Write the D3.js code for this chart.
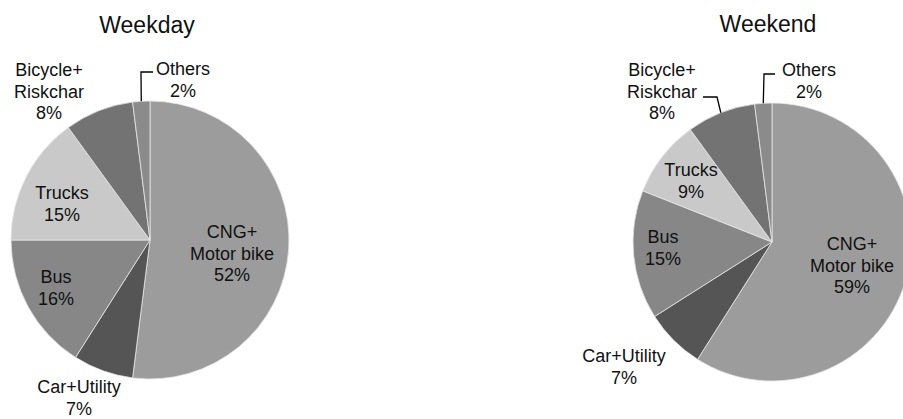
<!DOCTYPE html>
<html>
<head>
<meta charset="utf-8">
<script src="https://cdn.jsdelivr.net/npm/d3@7"></script>
<style>
  html, body { margin: 0; padding: 0; background: #fff; }
  svg { display: block; }
  text { font-family: "Liberation Sans", Arial, sans-serif; fill: #111; }
</style>
</head>
<body>
<svg id="chart" width="903" height="419"></svg>
<script>
// Vehicle categories, in clockwise order from 12 o'clock
const categories = ["CNG+\nMotor bike", "Car+Utility", "Bus", "Trucks", "Bicycle+\nRiskchar", "Others"];
// Share of each category (%)
const weekdayValues = [52, 7, 16, 15, 8, 2];
const weekendValues = [59, 7, 15, 9, 8, 2];
const chartTitles = ["Weekday", "Weekend"];

// Grey fill per category
const fills = ["#9c9c9c", "#555555", "#878787", "#c9c9c9", "#737373", "#8b8b8b"];

// Layout of each pie and its labels (offsets from the pie centre;
// label point = centre-x / baseline of the first line)
const layouts = [
  {
    cx: 150, cy: 240, r: 139, titleX: 147, titleY: 33,
    labels: [[82, -2], [-71, 153], [-94, 43], [-88, -41], [-101, -164], [33, -165]],
    leaders: { 5: [[-9, -168], [3, -168]] }
  },
  {
    cx: 772, cy: 242, r: 139, titleX: 768, titleY: 32,
    labels: [[80, 8], [-148, 120], [-109, 1], [-81, -66], [-110, -166], [37, -166]],
    leaders: { 4: [[-55, -145], [-69, -145]], 5: [[-8, -168], [3, -168]] }
  }
];

const svg = d3.select("#chart");
const lineH = 21.5;

function drawPie(values, title, lay) {
  const g = svg.append("g").attr("transform", `translate(${lay.cx},${lay.cy})`);

  const pie = d3.pie().sort(null).value(d => d.value);
  const arcs = pie(values.map((v, i) => ({ name: categories[i], value: v, i })));
  const arc = d3.arc().innerRadius(0).outerRadius(lay.r);

  g.selectAll("path.slice")
    .data(arcs)
    .join("path")
    .attr("class", "slice")
    .attr("d", arc)
    .attr("fill", d => fills[d.data.i])
    .attr("stroke", "#e6e6e6")
    .attr("stroke-width", 0.8)
    .attr("stroke-linejoin", "round");

  // Leader lines from the slice edge to its label
  const edge = d3.arc().innerRadius(lay.r).outerRadius(lay.r);
  arcs.forEach(d => {
    const pts = lay.leaders[d.data.i];
    if (!pts) return;
    const mid = (d.startAngle + d.endAngle) / 2;
    const start = [lay.r * Math.sin(mid), -lay.r * Math.cos(mid)];
    const path = [start].concat(pts);
    g.append("path")
      .attr("d", d3.line()(path))
      .attr("fill", "none")
      .attr("stroke", "#000")
      .attr("stroke-width", 1.3);
  });

  // Category name and percentage
  const labels = g.selectAll("text.lbl")
    .data(arcs)
    .join("text")
    .attr("class", "lbl")
    .attr("text-anchor", "middle")
    .attr("font-size", "18px");

  labels.each(function(d) {
    const [ox, oy] = lay.labels[d.data.i];
    const lines = d.data.name.split("\n").concat([`${d.data.value}%`]);
    d3.select(this).selectAll("tspan")
      .data(lines)
      .join("tspan")
      .attr("x", ox)
      .attr("y", (l, k) => oy + k * lineH)
      .text(l => l);
  });

  svg.append("text")
    .attr("x", lay.titleX)
    .attr("y", lay.titleY)
    .attr("text-anchor", "middle")
    .attr("font-size", "23px")
    .text(title);
}

drawPie(weekdayValues, chartTitles[0], layouts[0]);
drawPie(weekendValues, chartTitles[1], layouts[1]);
</script>
</body>
</html>
